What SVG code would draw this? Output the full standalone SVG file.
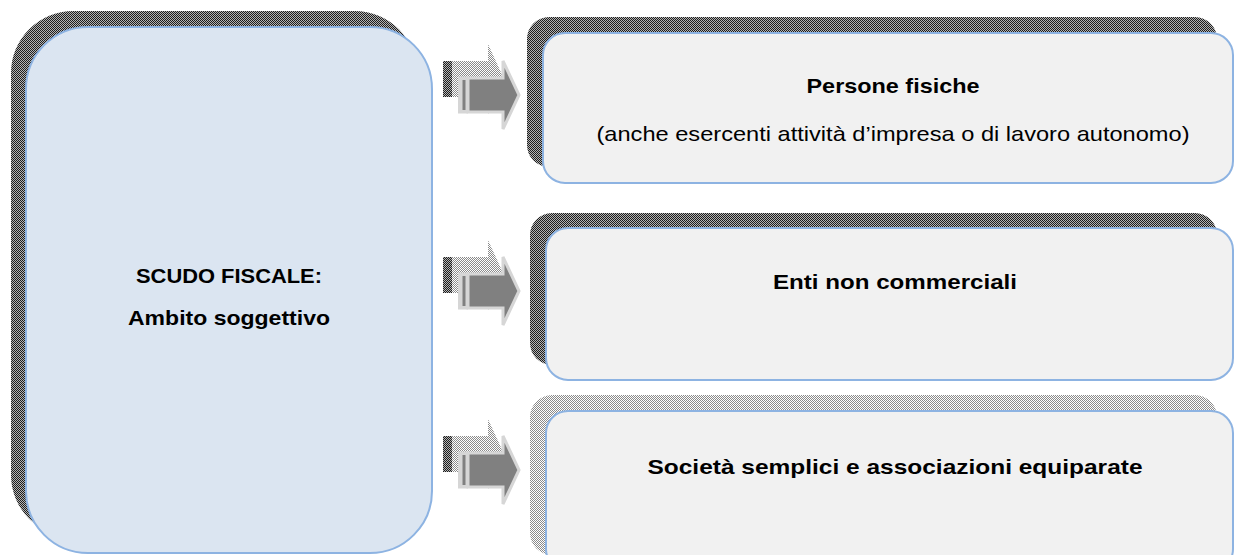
<svg xmlns="http://www.w3.org/2000/svg" width="1234" height="555" viewBox="0 0 1234 555">
<style>
.main{fill:#dbe5f1;stroke:#8db3e2;stroke-width:2}
.box{fill:#f1f1f1;stroke:#8db3e2;stroke-width:2}
.shD{fill:url(#pd)}
.shL{fill:url(#pl)}
.t{font-family:"Liberation Sans",Arial,sans-serif;font-size:21px;fill:#000;text-anchor:middle}
.b{font-weight:bold}
.af{fill:#808080;stroke:#d6d6d6;stroke-width:3;stroke-linejoin:miter}
</style>
<defs>
<pattern id="pd" width="2" height="2" patternUnits="userSpaceOnUse">
<rect width="2" height="2" fill="#b4b4b4"/><rect width="1" height="1" fill="#1e1e1e"/><rect x="1" y="1" width="1" height="1" fill="#1e1e1e"/>
</pattern>
<pattern id="pl" width="2" height="2" patternUnits="userSpaceOnUse">
<rect width="2" height="2" fill="#ffffff"/><rect width="1" height="1" fill="#8a8a8a"/><rect x="1" y="1" width="1" height="1" fill="#8a8a8a"/>
</pattern>
<g id="arrow">
<polygon class="shL" points="452,-34 488,-34 488,-51 504,-16 488,19 488,2 452,2"/>
<rect x="443" y="-34" width="9" height="36" fill="url(#pd)"/>
<polygon class="af" points="468,-17 503,-17 503,-34 519,0 503,34 503,17 468,17"/>
<rect x="458" y="-18.5" width="10" height="37" fill="#d6d6d6"/>
<rect x="462.5" y="-15" width="3" height="30" fill="#808080"/>
</g>
</defs>

<g id="node-scudo">
<rect class="shD" x="11" y="11" width="406" height="526" rx="62"/>
<rect class="main" x="26" y="27" width="406" height="526" rx="62"/>
<text class="t b" x="229" y="283" textLength="186" lengthAdjust="spacingAndGlyphs">SCUDO FISCALE:</text>
<text class="t b" x="229" y="325" textLength="202" lengthAdjust="spacingAndGlyphs">Ambito soggettivo</text>
</g>

<g id="node-persone">
<rect class="shD" x="527" y="17" width="690" height="150" rx="22"/>
<rect class="box" x="543" y="33" width="690" height="150" rx="22"/>
<text class="t b" x="893" y="93" textLength="173" lengthAdjust="spacingAndGlyphs">Persone fisiche</text>
<text class="t" x="893" y="141" textLength="593" lengthAdjust="spacingAndGlyphs">(anche esercenti attività d’impresa o di lavoro autonomo)</text>
</g>

<g id="node-enti">
<rect class="shD" x="530" y="213" width="687" height="152" rx="22"/>
<rect class="box" x="546" y="228" width="687" height="152" rx="22"/>
<text class="t b" x="895" y="289" textLength="244" lengthAdjust="spacingAndGlyphs">Enti non commerciali</text>
</g>

<g id="node-societa">
<rect class="shL" x="530" y="395" width="687" height="160" rx="22"/>
<rect class="box" x="546" y="411" width="687" height="160" rx="22"/>
<text class="t b" x="895" y="474" textLength="495" lengthAdjust="spacingAndGlyphs">Società semplici e associazioni equiparate</text>
</g>

<g id="connectors">
<use href="#arrow" transform="translate(0,95)"/>
<use href="#arrow" transform="translate(0,291)"/>
<use href="#arrow" transform="translate(0,470)"/>
</g>
</svg>
